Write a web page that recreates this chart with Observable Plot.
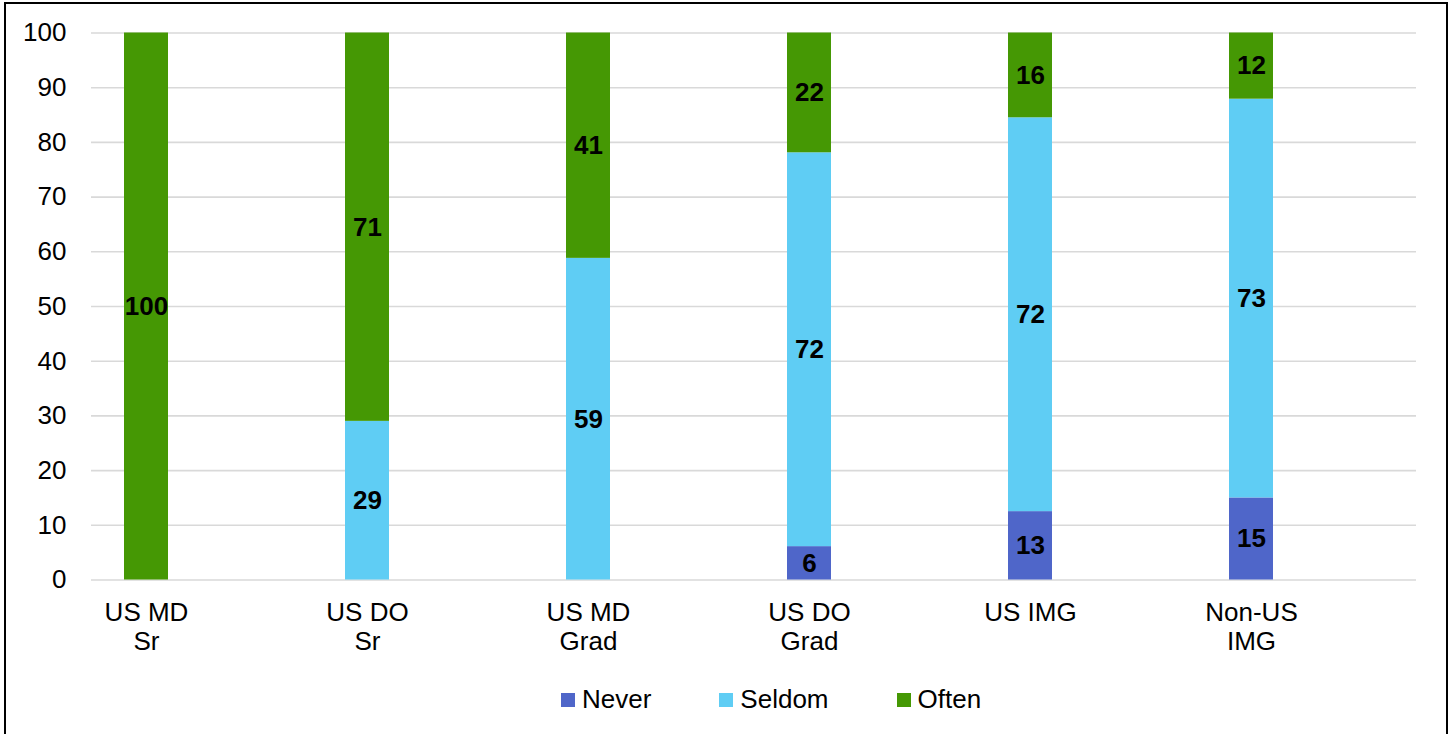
<!DOCTYPE html>
<html>
<head>
<meta charset="utf-8">
<script src="https://cdn.jsdelivr.net/npm/d3@7"></script>
<script src="https://cdn.jsdelivr.net/npm/@observablehq/plot@0.6"></script>
<style>
  html, body { margin: 0; padding: 0; background: #fff; overflow: hidden; width: 1452px; height: 734px; }
  body { position: relative; font-family: "Liberation Sans", Arial, sans-serif; }
  #frame { position: absolute; left: 4px; top: 2px; width: 1440px; height: 760px; border: 2px solid #000; box-sizing: content-box; }
  #chart { position: absolute; left: 0; top: 0; }
  #legend { position: absolute; left: 561px; top: 684px; display: flex; align-items: center; font-size: 26px; color: #000; white-space: nowrap; }
  .item { display: flex; align-items: center; margin-right: 68px; }
  .item:last-child { margin-right: 0; }
  .sw { width: 14px; height: 14px; margin-right: 7px; }
</style>
</head>
<body>
<div id="frame"></div>
<div id="chart"></div>
<div id="legend"></div>
<script>
const categories = ["US MD\nSr", "US DO\nSr", "US MD\nGrad", "US DO\nGrad", "US IMG", "Non-US\nIMG"];
const seriesNames = ["Never", "Seldom", "Often"];
const never  = [0, 0, 0, 6.1, 12.5, 15];
const seldom = [0, 29, 58.8, 72, 72, 72.9];
const often  = [100, 71, 41.2, 21.9, 15.5, 12.1];
const colors = ["#4f66c9", "#5fcdf4", "#459804"];
const yTicks = [0, 10, 20, 30, 40, 50, 60, 70, 80, 90, 100];

const seriesValues = [never, seldom, often];
const data = [];
categories.forEach((c, i) => {
  seriesNames.forEach((s, j) => {
    data.push({category: c, series: s, value: seriesValues[j][i]});
  });
});

const W = 1452, H = 660;
const font = '"Liberation Sans", Arial, sans-serif';

const plot = Plot.plot({
  width: W,
  height: H,
  marginLeft: 91,
  marginRight: 36,
  marginTop: 32.5,
  marginBottom: H - 579.5,
  style: {fontFamily: font, fontSize: "26px", color: "#000", background: "transparent", overflow: "visible"},
  x: {domain: categories, range: [35.5, 1361.5], paddingInner: 0.8, paddingOuter: 0.4, align: 0.5},
  y: {domain: [0, 100]},
  color: {domain: seriesNames, range: colors},
  marks: [
    Plot.ruleY(yTicks, {stroke: "#d9d9d9", strokeWidth: 1.6}),
    Plot.barY(data, {x: "category", y: "value", fill: "series", z: "series"}),
    Plot.text(data.filter(d => d.value > 0), Plot.stackY({
      x: "category", y: "value", z: "series",
      text: d => String(Math.round(d.value)),
      fill: "#000", fontWeight: "bold", fontSize: 26
    })),
    Plot.axisY({ticks: yTicks, tickSize: 0, tickPadding: 25, label: null, fontSize: 26}),
    Plot.axisX({tickSize: 0, tickPadding: 20, label: null, fontSize: 26, lineHeight: 1.13})
  ]
});
document.getElementById("chart").appendChild(plot);

const legend = document.getElementById("legend");
seriesNames.forEach((s, i) => {
  const item = document.createElement("div");
  item.className = "item";
  const sw = document.createElement("span");
  sw.className = "sw";
  sw.style.background = colors[i];
  const t = document.createElement("span");
  t.textContent = s;
  item.appendChild(sw);
  item.appendChild(t);
  legend.appendChild(item);
});
</script>
</body>
</html>
